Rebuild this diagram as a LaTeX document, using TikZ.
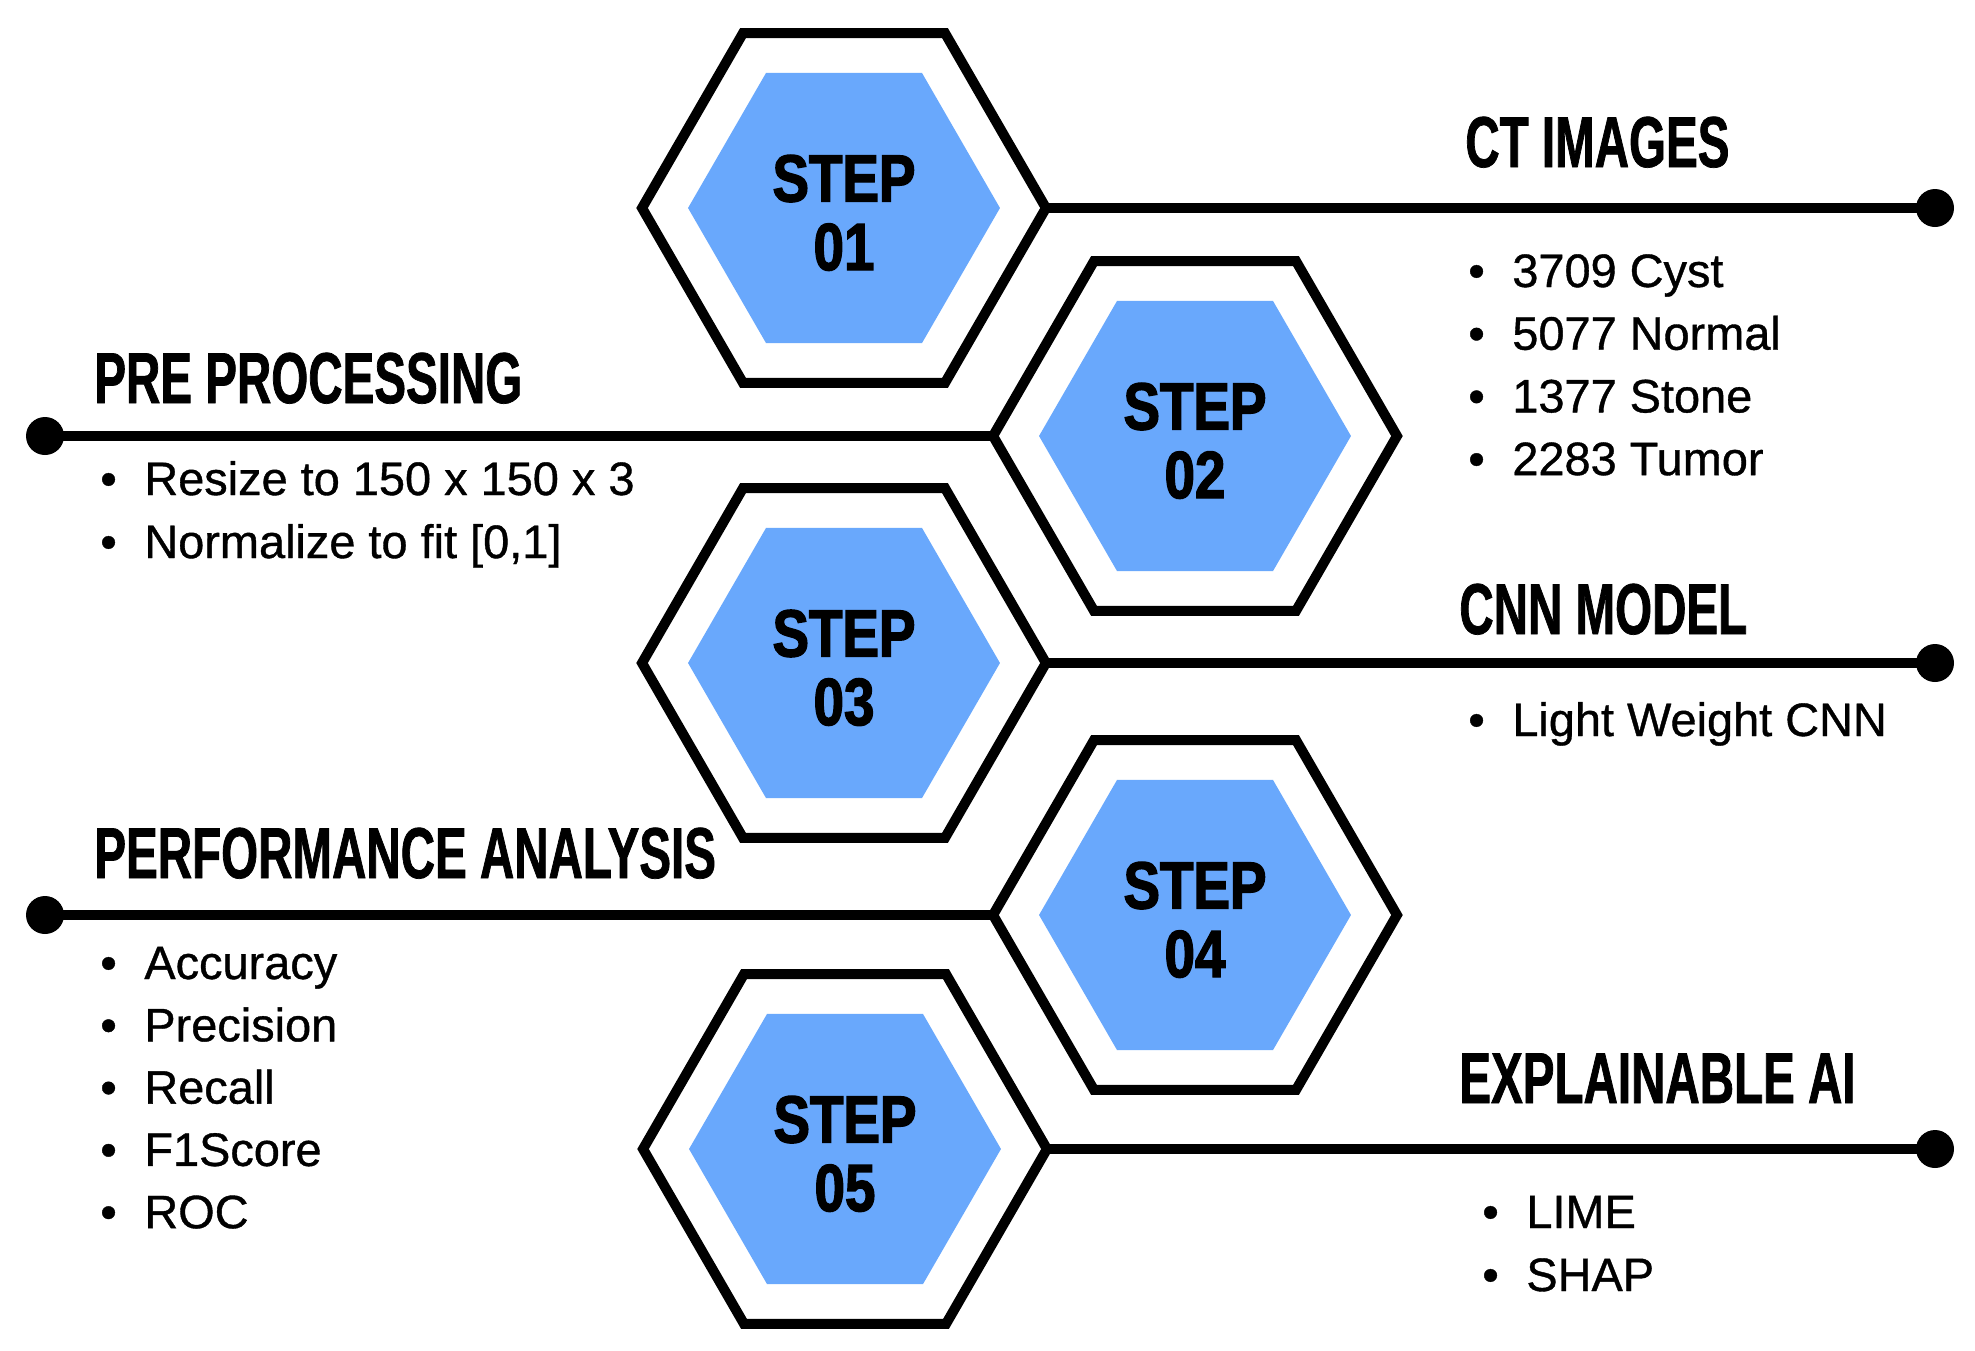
\documentclass[tikz,border=0pt]{standalone}
\usepackage{fontspec}
\setmainfont[FakeBold=0.8]{Liberation Sans}
\newfontfamily\headfont[FakeStretch=0.66,FakeBold=1]{Liberation Sans}
\newfontfamily\stepfont[FakeStretch=0.82,FakeBold=2]{Liberation Sans}
\usetikzlibrary{shapes.geometric, positioning}
\definecolor{hexblue}{RGB}{105,168,252}

\tikzset{
  hexout/.style={regular polygon, regular polygon sides=6, minimum size=8.08cm,
    draw, line width=5.7pt, fill=white, inner sep=0pt, outer sep=0pt},
  hexin/.style={regular polygon, regular polygon sides=6, minimum size=6.24cm,
    fill=hexblue, inner sep=0pt, align=center,
    font=\stepfont\bfseries\fontsize{38}{39}\selectfont},
  link/.style={line width=5.7pt},
  enddot/.style={circle, fill=black, minimum size=0.76cm, inner sep=0pt},
  head/.style={font=\headfont\bfseries\fontsize{41}{41}\selectfont,
    inner sep=0pt, anchor=base west},
  item/.style={font=\fontsize{26.7}{30}\selectfont, inner sep=0pt, anchor=base west},
}
\newcommand{\itm}[1]{\textbullet\hspace{15.7pt}#1}
\newcommand{\steplbl}[1]{\rule{0pt}{32pt}STEP\\#1}

\begin{document}
\begin{tikzpicture}[x=0.02cm, y=-0.02cm]
  \useasboundingbox (0,0) rectangle (1975,1350);

  % Hexagons
  \node[hexout] (s1) at (844,208) {};
  \node[hexin] (s1in) at (s1) {\steplbl{01}};
  \node[hexout] (s2) at (1195,436) {};
  \node[hexin] (s2in) at (s2) {\steplbl{02}};
  \node[hexout] (s3) at (844,663) {};
  \node[hexin] (s3in) at (s3) {\steplbl{03}};
  \node[hexout] (s4) at (1195,915) {};
  \node[hexin] (s4in) at (s4) {\steplbl{04}};
  \node[hexout] (s5) at (845,1149) {};
  \node[hexin] (s5in) at (s5) {\steplbl{05}};

  % End dots and lines
  \node[enddot] (d1) at (1935,208) {};
  \node[enddot] (d2) at (45,436) {};
  \node[enddot] (d3) at (1935,663) {};
  \node[enddot] (d4) at (45,915) {};
  \node[enddot] (d5) at (1935,1149) {};
  \draw[link] (s1.east) -- (d1.center);
  \draw[link] (s2.west) -- (d2.center);
  \draw[link] (s3.east) -- (d3.center);
  \draw[link] (s4.west) -- (d4.center);
  \draw[link] (s5.east) -- (d5.center);

  % Headings
  \node[head] (h1) at (1465,167) {CT IMAGES};
  \node[head] (h2) at (94,403) {PRE PROCESSING};
  \node[head] (h3) at (1459,634) {CNN MODEL};
  \node[head] (h4) at (94,878) {PERFORMANCE ANALYSIS};
  \node[head] (h5) at (1459,1103) {EXPLAINABLE AI};

  % Items
  \foreach \t [count=\i] in {3709 Cyst, 5077 Normal, 1377 Stone, 2283 Tumor}
    \node[item] (ct\i) at (1468,{287+62.7*(\i-1)}) {\itm{\t}};
  \node[item] (pre1) at (100,495) {\itm{Resize to 150 x 150 x 3}};
  \node[item] (pre2) at (100,558) {\itm{Normalize to fit [0,1]}};
  \node[item] (cnn1) at (1468,736) {\itm{Light Weight CNN}};
  \foreach \t [count=\i] in {Accuracy, Precision, Recall, F1Score, ROC}
    \node[item] (pa\i) at (100,{979+62.3*(\i-1)}) {\itm{\t}};
  \node[item] (xai1) at (1482,1228) {\itm{LIME}};
  \node[item] (xai2) at (1482,1291) {\itm{SHAP}};
\end{tikzpicture}
\end{document}
